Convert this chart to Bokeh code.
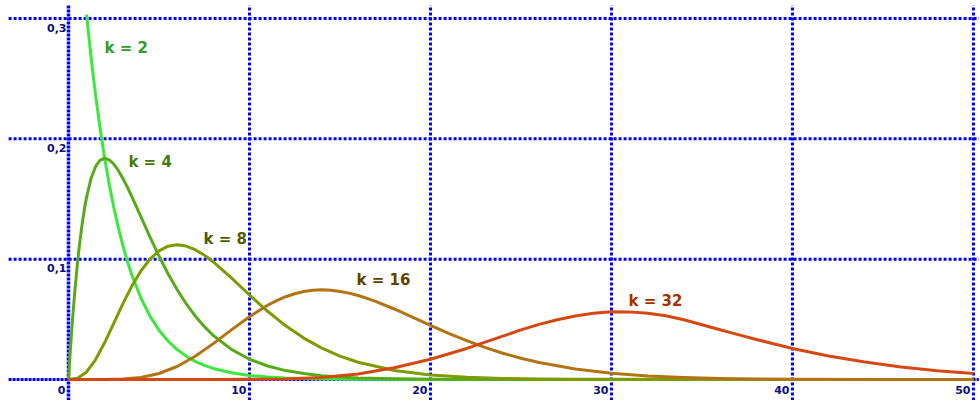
from bokeh.plotting import figure
from bokeh.models import Range1d, ColumnDataSource
from bokeh.core.properties import value
from bokeh.embed import file_html
from bokeh.resources import INLINE

# Chi-square density curves, sampled values for each degree of freedom k
k2_x = [1.0, 1.1, 1.25, 1.4, 1.5, 1.75, 2.0, 2.25, 2.5, 2.75, 3.0, 3.25, 3.5, 4.0, 4.5,
        5.0, 5.5, 6.0, 6.5, 7.0, 7.5, 8.0, 9.0, 10.0, 11.0, 12.0, 13.0, 14.0, 16.0,
        18.0, 20.0, 25.0, 30.0, 40.0, 50.0]
k2_y = [0.3033, 0.2885, 0.2676, 0.2483, 0.2362, 0.2084, 0.1839, 0.1623, 0.1433, 0.1264,
        0.1116, 0.0985, 0.0869, 0.0677, 0.0527, 0.0410, 0.0320, 0.0249, 0.0194, 0.0151,
        0.0118, 0.0092, 0.0056, 0.0034, 0.0020, 0.0012, 0.0008, 0.0005, 0.0002, 0.0001,
        0.0, 0.0, 0.0, 0.0, 0.0]

k4_x = [0, 0.05, 0.1, 0.2, 0.25, 0.35, 0.5, 0.6, 0.75, 0.9, 1, 1.25, 1.5, 1.75, 2, 2.25,
        2.5, 2.75, 3, 3.25, 3.5, 4, 4.5, 5, 5.5, 6, 6.5, 7, 7.5, 8, 9, 10, 11, 12, 13,
        14, 15, 16, 18, 20, 25, 30, 40, 50]
k4_y = [0, 0.0122, 0.0238, 0.0452, 0.0552, 0.0735, 0.0974, 0.1111, 0.1289, 0.1435,
        0.1516, 0.1673, 0.1771, 0.1824, 0.1839, 0.1826, 0.1791, 0.1738, 0.1673, 0.1600,
        0.1520, 0.1353, 0.1186, 0.1026, 0.0879, 0.0747, 0.0630, 0.0528, 0.0441, 0.0366,
        0.0250, 0.0168, 0.0112, 0.0074, 0.0049, 0.0032, 0.0021, 0.0013, 0.0006, 0.0002,
        0.0, 0.0, 0.0, 0.0]

k8_x = [0, 0.5, 1, 1.5, 2, 2.5, 3, 3.5, 4, 4.5, 5, 5.5, 6, 6.5, 7, 7.5, 8, 9, 10, 11,
        12, 13, 14, 15, 16, 18, 20, 22, 24, 26, 28, 30, 35, 40, 50]
k8_y = [0, 0.0010, 0.0063, 0.0166, 0.0307, 0.0466, 0.0628, 0.0776, 0.0902, 0.1001,
        0.1069, 0.1108, 0.1120, 0.1109, 0.1079, 0.1034, 0.0977, 0.0844, 0.0702, 0.0567,
        0.0446, 0.0344, 0.0261, 0.0194, 0.0143, 0.0075, 0.0038, 0.0019, 0.0009, 0.0004,
        0.0002, 0.0001, 0.0, 0.0, 0.0]

k16_x = [0, 2, 3, 4, 5, 6, 7, 8, 9, 10, 11, 11.5, 12, 12.5, 13, 13.5, 14, 14.5, 15,
         15.5, 16, 16.5, 17, 18, 19, 20, 21, 22, 23, 24, 25, 26, 28, 30, 32, 34, 36, 38,
         40, 45, 50]
k16_y = [0, 0.0000, 0.0004, 0.0017, 0.0050, 0.0108, 0.0193, 0.0298, 0.0412, 0.0522,
         0.0617, 0.0656, 0.0688, 0.0713, 0.0731, 0.0742, 0.0745, 0.0742, 0.0732, 0.0718,
         0.0698, 0.0674, 0.0647, 0.0586, 0.0519, 0.0450, 0.0384, 0.0323, 0.0267, 0.0218,
         0.0176, 0.0141, 0.0087, 0.0052, 0.0030, 0.0017, 0.0009, 0.0005, 0.0003, 0.0000,
         0.0000]

k32_x = [0, 8, 10, 12, 14, 16, 18, 20, 22, 24, 25, 26, 27, 28, 29, 30, 31, 32, 33, 34,
         35, 36, 37, 38, 39, 40, 42, 44, 46, 48, 50]
k32_y = [0, 0.0000, 0.0001, 0.0005, 0.0017, 0.0046, 0.0098, 0.0168, 0.0258, 0.0360,
         0.0412, 0.0458, 0.0497, 0.0528, 0.0550, 0.0564, 0.0562, 0.0551, 0.0530, 0.0496,
         0.0455, 0.0414, 0.0373, 0.0333, 0.0295, 0.0258, 0.0196, 0.0145, 0.0104, 0.0073,
         0.0050]

curve_labels = ["k = 2", "k = 4", "k = 8", "k = 16", "k = 32"]
label_x = [1.99, 3.31, 7.46, 15.91, 30.94]
label_y = [0.2752, 0.1806, 0.1164, 0.0823, 0.0656]

x_ticks = [0, 10, 20, 30, 40, 50]
x_tick_labels = ["0", "10", "20", "30", "40", "50"]
y_ticks = [0.1, 0.2, 0.3]
y_tick_labels = ["0,1", "0,2", "0,3"]

curve_colors = ["#3ce83c", "#58aa18", "#7d9c00", "#b27412", "#d64812"]
label_colors = ["#2c9e2c", "#457c10", "#4f5c00", "#5e4200", "#a23200"]

X_LO, X_HI = -3.757, 50.39
Y_LO, Y_HI = -0.01746, 0.3150

p = figure(width=980, height=400, output_backend="svg", toolbar_location=None,
           x_range=Range1d(X_LO, X_HI), y_range=Range1d(Y_LO, Y_HI),
           x_axis_location=None, y_axis_location=None, min_border=0)
p.outline_line_color = None
p.grid.visible = False
p.background_fill_color = "white"
p.border_fill_color = "white"

blue = "#0000ff"
navy = "#10107a"

# dotted grid: verticals at the x ticks, horizontals at the y ticks
v_src = ColumnDataSource(dict(x=x_ticks[1:]))
p.segment(x0="x", y0=Y_LO, x1="x", y1=0.311, source=v_src,
          line_color=blue, line_width=3, line_dash="3 2")
h_src = ColumnDataSource(dict(y=y_ticks))
p.segment(x0=-3.31, y0="y", x1=50.3, y1="y", source=h_src,
          line_color=blue, line_width=3, line_dash="3 2")

# axes through the origin
p.segment(x0=[x_ticks[0]], y0=[Y_LO], x1=[x_ticks[0]], y1=[0.311],
          line_color=blue, line_width=3.5, line_dash="3 1")
p.segment(x0=[-3.31], y0=[0], x1=[50.3], y1=[0],
          line_color=blue, line_width=3, line_dash="3 1")

series = [(k2_x, k2_y), (k4_x, k4_y), (k8_x, k8_y), (k16_x, k16_y), (k32_x, k32_y)]
for (xs, ys), c in zip(series, curve_colors):
    p.line(xs, ys, line_color=c, line_width=3, line_join="round")

# curve labels
lab_src = ColumnDataSource(dict(x=label_x, y=label_y, t=curve_labels, c=label_colors))
p.text(x="x", y="y", text="t", source=lab_src, text_color="c",
       text_font=value("DejaVu Sans"), text_font_style="bold",
       text_font_size="15px", text_align="left", text_baseline="middle")

# tick labels
xt_src = ColumnDataSource(dict(x=x_ticks, y=[0] * len(x_ticks), t=x_tick_labels))
p.text(x="x", y="y", text="t", source=xt_src, text_color=navy,
       text_font=value("DejaVu Sans"), text_font_style="bold", text_font_size="11px",
       text_align="right", text_baseline="middle", x_offset=-3, y_offset=11)
yt_src = ColumnDataSource(dict(x=[0] * len(y_ticks), y=y_ticks, t=y_tick_labels))
p.text(x="x", y="y", text="t", source=yt_src, text_color=navy,
       text_font=value("DejaVu Sans"), text_font_style="bold", text_font_size="11px",
       text_align="right", text_baseline="top", x_offset=-2, y_offset=5)

open("out.html", "w").write(file_html(p, INLINE))
